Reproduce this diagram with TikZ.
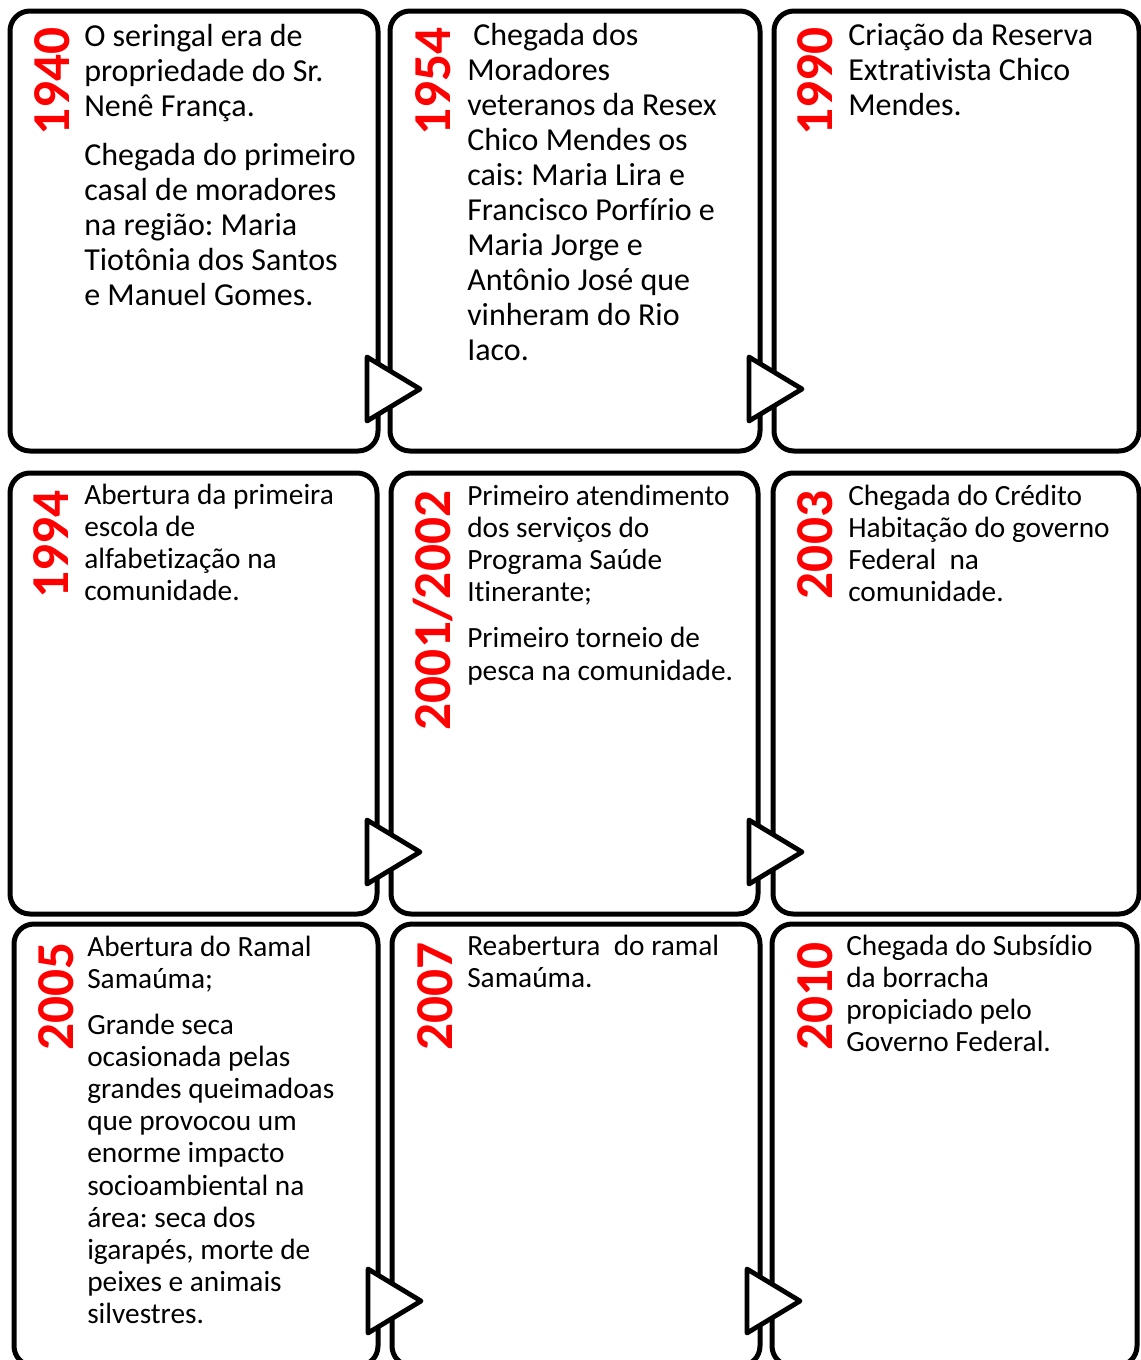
\documentclass[tikz,border=0pt]{standalone}
\usepackage{fontspec}
\setmainfont{Carlito}[Ligatures=NoCommon]
\frenchspacing
\begin{document}
\begin{tikzpicture}[x=0.75pt,y=-0.75pt,
  card/.style={draw=black, line width=3.75pt, rounded corners=15pt, fill=white},
  pointer/.style={draw=black, line width=3.6pt, line join=round, fill=white},
  year/.style={rotate=90, anchor=base, inner sep=0pt, text=red,
    font=\fontsize{40}{48}\selectfont\bfseries},
  bodyA/.style={anchor=base west, inner sep=0pt, font=\fontsize{24}{26.3}\selectfont},
  bodyB/.style={anchor=base west, inner sep=0pt, font=\fontsize{22}{24.15}\selectfont},
]
\useasboundingbox (0,0) rectangle (1141,1360);
\clip (0,0) rectangle (1141,1360);

% cards, row by row
\draw[card] (10,11) rectangle (378,451);
\draw[card] (390,11) rectangle (760,451);
\draw[card] (774,11) rectangle (1139,451);

\draw[card] (10,473) rectangle (377,914);
\draw[card] (391,473) rectangle (758,914);
\draw[card] (773,473) rectangle (1139,914);

\draw[card] (14,924) rectangle (378,1366);
\draw[card] (392,924) rectangle (760,1366);
\draw[card] (772,924) rectangle (1137,1366);

% arrow heads between neighbouring cards
\draw[pointer] (367,357) -- (367,421) -- (420,389) -- cycle;
\draw[pointer] (749,357) -- (749,421) -- (802,389) -- cycle;
\draw[pointer] (367,820) -- (367,884) -- (420,852) -- cycle;
\draw[pointer] (749,820) -- (749,884) -- (802,852) -- cycle;
\draw[pointer] (368,1269) -- (368,1333) -- (421,1301) -- cycle;
\draw[pointer] (747,1269) -- (747,1333) -- (800,1301) -- cycle;

% years
\node[year] (y1940) at (69,81.5) {1940};
\node[year] (y1954) at (450,81.5) {1954};
\node[year] (y1990) at (832,81.5) {1990};
\node[year] (y1994) at (68,544.5) {1994};
\node[year] (y2001) at (450,610.5) {2001/2002};
\node[year] (y2003) at (832,545) {2003};
\node[year] (y2005) at (73,996.5) {2005};
\node[year] (y2007) at (452,996.5) {2007};
\node[year] (y2010) at (832,996.5) {2010};

% descriptions
\node[bodyA] (t1940) at (84,46) {\parbox[t]{300pt}{\raggedright
  O seringal era de\\ propriedade do Sr.\\ Nenê França.\\[10.5pt]
  Chegada do primeiro\\ casal de moradores\\ na região: Maria\\
  Tiotônia dos Santos\\ e Manuel Gomes.}};
\node[bodyA] (t1954) at (467,45) {\parbox[t]{300pt}{\raggedright
  \hspace*{4.5pt}Chegada dos\\ Moradores\\ veteranos da Resex\\ Chico Mendes os\\
  cais: Maria Lira e\\ Francisco Porfírio e\\ Maria Jorge e\\
  Antônio José que\\ vinheram do Rio\\ Iaco.}};
\node[bodyA] (t1990) at (848,45) {\parbox[t]{300pt}{\raggedright
  Criação da Reserva\\ Extrativista Chico\\ Mendes.}};

\node[bodyB] (t1994) at (84,504) {\parbox[t]{300pt}{\raggedright
  Abertura da primeira\\ escola de\\ alfabetização na\\ comunidade.}};
\node[bodyB] (t2001) at (467,505) {\parbox[t]{300pt}{\raggedright
  Primeiro atendimento\\ dos serviços do\\ Programa Saúde\\ Itinerante;\\[10.5pt]
  Primeiro torneio de\\ pesca na comunidade.}};
\node[bodyB] (t2003) at (848,505) {\parbox[t]{300pt}{\raggedright
  Chegada do Crédito\\ Habitação do governo\\ Federal\ \ na\\ comunidade.}};

\node[bodyB] (t2005) at (87,956) {\parbox[t]{300pt}{\raggedright
  Abertura do Ramal\\ Samaúma;\\[10.3pt]
  Grande seca\\ ocasionada pelas\\ grandes queimadoas\\ que provocou um\\
  enorme impacto\\ socioambiental na\\ área: seca dos\\ igarapés, morte de\\
  peixes e animais\\ silvestres.}};
\node[bodyB] (t2007) at (467,955) {\parbox[t]{300pt}{\raggedright
  Reabertura\ \ do ramal\\ Samaúma.}};
\node[bodyB] (t2010) at (846,955) {\parbox[t]{300pt}{\raggedright
  Chegada do Subsídio\\ da borracha\\ propiciado pelo\\ Governo Federal.}};
\end{tikzpicture}
\end{document}
